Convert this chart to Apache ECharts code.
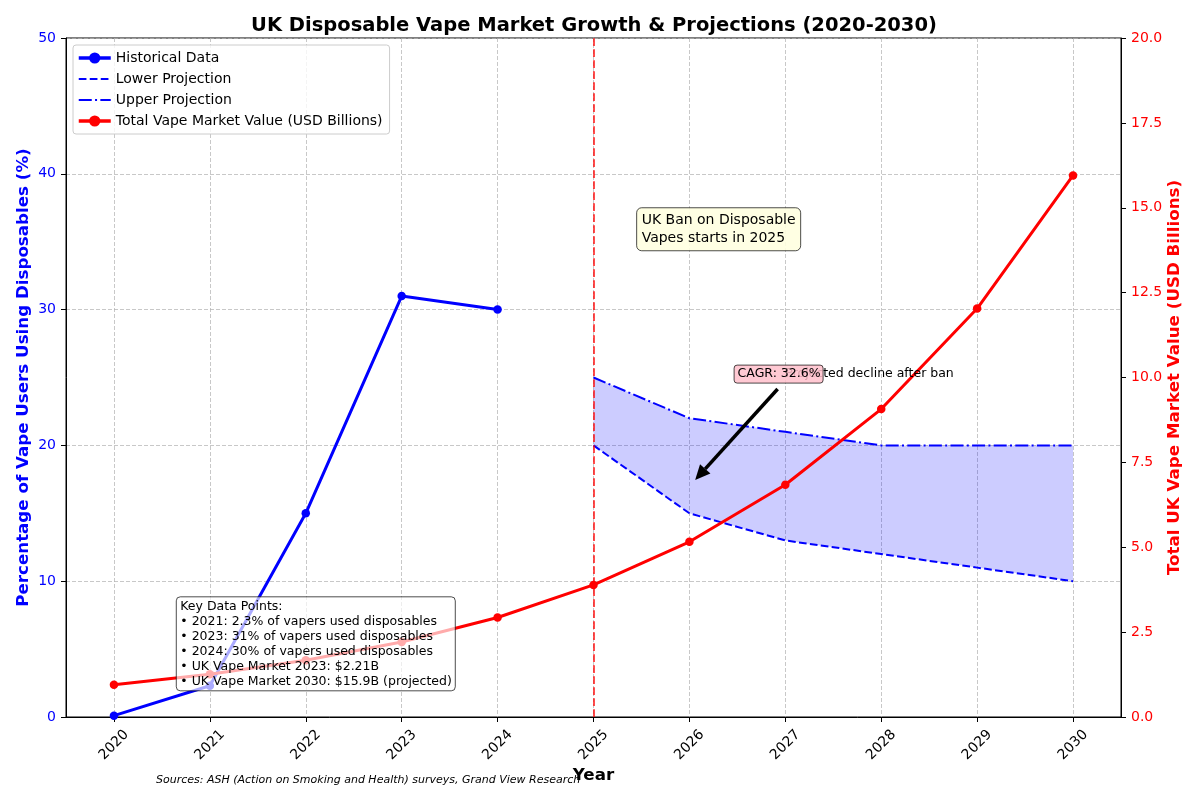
<!DOCTYPE html>
<html>
<head>
<meta charset="utf-8">
<script src="https://cdn.jsdelivr.net/npm/echarts@6/dist/echarts.min.js"></script>
<style>
  html, body { margin: 0; padding: 0; background: #fff; }
  #chart { width: 1200px; height: 800px; }
</style>
</head>
<body>
<div id="chart"></div>
<script>
// ---- data ----
var years = ['2020', '2021', '2022', '2023', '2024', '2025', '2026', '2027', '2028', '2029', '2030'];
var historicalPct = [0.1, 2.3, 15, 31, 30, null, null, null, null, null, null];
var lowerProjection = [null, null, null, null, null, 20, 15, 13, 12, 11, 10];
var upperProjection = [null, null, null, null, null, 25, 22, 21, 20, 20, 20];
var marketValue = [0.95, 1.26, 1.67, 2.21, 2.93, 3.89, 5.16, 6.84, 9.07, 12.03, 15.95];
var banYear = '2025';
var keyPoints = [
  'Key Data Points:',
  '\u2022 2021: 2.3% of vapers used disposables',
  '\u2022 2023: 31% of vapers used disposables',
  '\u2022 2024: 30% of vapers used disposables',
  '\u2022 UK Vape Market 2023: $2.21B',
  '\u2022 UK Vape Market 2030: $15.9B (projected)'
];

var FONT = 'DejaVu Sans';
var DASHED = [7.7, 3.3];
var DASHDOT = [13, 3.3, 2, 3.3];

// band between projections = base (lower) + gap (upper - lower)
var bandGap = upperProjection.map(function (u, i) {
  return u == null ? '-' : u - lowerProjection[i];
});
var bandBase = lowerProjection.map(function (v) { return v == null ? '-' : v; });
function dash(arr) { return arr.map(function (v) { return v == null ? '-' : v; }); }

var chart = echarts.init(document.getElementById('chart'));

var gridLine = { show: true, lineStyle: { color: '#b0b0b0', opacity: 0.7, width: 1, type: [4, 2] } };

var options = {
  animation: false,
  backgroundColor: '#fff',
  textStyle: { fontFamily: FONT },
  title: {
    text: 'UK Disposable Vape Market Growth & Projections (2020-2030)',
    left: 589, top: 11, textAlign: 'center',
    textStyle: { fontFamily: FONT, fontSize: 19.5, fontWeight: 'bold', color: '#000' }
  },
  legend: {
    orient: 'vertical', left: 73, top: 45,
    padding: [6, 7, 6, 4],
    itemGap: 7, itemWidth: 32, itemHeight: 14,
    backgroundColor: 'rgba(255,255,255,0.8)',
    borderColor: '#cccccc', borderWidth: 1, borderRadius: 3,
    textStyle: { fontFamily: FONT, fontSize: 14, color: '#000' },
    data: [
      { name: 'Historical Data', lineStyle: { width: 3.5 } },
      { name: 'Lower Projection', itemStyle: { opacity: 0 }, lineStyle: { width: 2, type: DASHED } },
      { name: 'Upper Projection', itemStyle: { opacity: 0 }, lineStyle: { width: 2, type: DASHDOT } },
      { name: 'Total Vape Market Value (USD Billions)', lineStyle: { width: 3.5 } }
    ]
  },
  grid: {
    left: 66, right: 79, top: 38, bottom: 83,
    show: true, borderColor: '#000', borderWidth: 1, backgroundColor: 'transparent'
  },
  xAxis: {
    type: 'category', data: years, boundaryGap: true,
    name: 'Year', nameLocation: 'middle', nameGap: 50, nameMoveOverlap: false,
    nameTextStyle: { fontFamily: FONT, fontSize: 16.7, fontWeight: 'bold', color: '#000' },
    axisLine: { show: true, lineStyle: { color: '#000', width: 1 } },
    axisTick: { show: true, alignWithLabel: true, length: 5, lineStyle: { color: '#000' } },
    axisLabel: {
      rotate: 45, color: '#000', fontSize: 14, fontFamily: FONT,
      margin: 28, align: 'center', verticalAlign: 'middle'
    },
    splitLine: { show: true, alignWithLabel: true, lineStyle: gridLine.lineStyle }
  },
  yAxis: [
    {
      type: 'value', min: 0, max: 50, interval: 10, position: 'left',
      name: 'Percentage of Vape Users Using Disposables (%)',
      nameLocation: 'middle', nameGap: 34, nameMoveOverlap: false,
      nameTextStyle: { fontFamily: FONT, fontSize: 16.7, fontWeight: 'bold', color: '#0000ff' },
      axisLine: { show: true, lineStyle: { color: '#000', width: 1 } },
      axisTick: { show: true, length: 5, lineStyle: { color: '#000' } },
      axisLabel: { color: '#0000ff', fontSize: 14, fontFamily: FONT, margin: 10 },
      splitLine: gridLine
    },
    {
      type: 'value', min: 0, max: 20, interval: 2.5, position: 'right',
      name: 'Total UK Vape Market Value (USD Billions)',
      nameLocation: 'middle', nameGap: 45, nameMoveOverlap: false,
      nameTextStyle: { fontFamily: FONT, fontSize: 16.7, fontWeight: 'bold', color: '#ff0000' },
      axisLine: { show: true, lineStyle: { color: '#000', width: 1 } },
      axisTick: { show: true, length: 5, lineStyle: { color: '#000' } },
      axisLabel: {
        color: '#ff0000', fontSize: 14, fontFamily: FONT, margin: 10,
        formatter: function (v) { return v.toFixed(1); }
      },
      splitLine: { show: false }
    }
  ],
  series: [
    {
      name: 'bandBase', type: 'line', stack: 'band', data: bandBase,
      symbol: 'none', lineStyle: { opacity: 0 }, silent: true
    },
    {
      name: 'bandGap', type: 'line', stack: 'band', data: bandGap,
      symbol: 'none', lineStyle: { opacity: 0 },
      areaStyle: { color: 'rgba(0,0,255,0.2)', opacity: 1 }, silent: true
    },
    {
      name: 'Lower Projection', type: 'line', data: dash(lowerProjection),
      symbol: 'none', color: '#0000ff',
      lineStyle: { color: '#0000ff', width: 2, type: DASHED }
    },
    {
      name: 'Upper Projection', type: 'line', data: dash(upperProjection),
      symbol: 'none', color: '#0000ff',
      lineStyle: { color: '#0000ff', width: 2, type: DASHDOT }
    },
    {
      name: 'Historical Data', type: 'line', data: dash(historicalPct),
      symbol: 'circle', symbolSize: 8.5, color: '#0000ff',
      lineStyle: { color: '#0000ff', width: 3 },
      itemStyle: { color: '#0000ff' },
      markLine: {
        silent: true, symbol: ['none', 'none'], label: { show: false },
        lineStyle: { color: 'rgba(255,0,0,0.7)', width: 2, type: DASHED },
        data: [{ xAxis: banYear }]
      }
    },
    {
      name: 'Total Vape Market Value (USD Billions)', type: 'line', yAxisIndex: 1,
      data: marketValue, symbol: 'circle', symbolSize: 8.5, color: '#ff0000',
      lineStyle: { color: '#ff0000', width: 3 },
      itemStyle: { color: '#ff0000' }
    }
  ]
};

chart.setOption(options);

// fractional year + value -> pixel, through the chart's own axes
function pt(year, val, yIdx) {
  var f = year - 2020;
  var i0 = Math.floor(f);
  var t = f - i0;
  var p0 = chart.convertToPixel({ xAxisIndex: 0, yAxisIndex: yIdx || 0 }, [i0, val]);
  var p1 = chart.convertToPixel({ xAxisIndex: 0, yAxisIndex: yIdx || 0 }, [i0 + 1, val]);
  return [p0[0] + t * (p1[0] - p0[0]), p0[1]];
}

var keyTL = pt(2020.65, 8.85);
var banTL = pt(2025.45, 37.5);
var projTxt = pt(2027, 25);
var cagrC = pt(2026.93, 25.25);
var arrTail = pt(2026.92, 24.15);
var arrHead = pt(2026.06, 17.45);

// arrow head geometry
var dx = arrHead[0] - arrTail[0], dy = arrHead[1] - arrTail[1];
var len = Math.sqrt(dx * dx + dy * dy);
var ux = dx / len, uy = dy / len;
var headLen = 15, headW = 7;
var baseX = arrHead[0] - ux * headLen, baseY = arrHead[1] - uy * headLen;

chart.setOption({
  graphic: [
    // ban note
    {
      type: 'rect', z: 100,
      shape: { x: banTL[0], y: banTL[1], width: 164, height: 43, r: 5 },
      style: { fill: 'rgba(255,255,224,0.9)', stroke: 'rgba(0,0,0,0.7)', lineWidth: 1 }
    },
    {
      type: 'text', z: 101, x: banTL[0] + 5, y: banTL[1] + 4,
      style: {
        text: 'UK Ban on Disposable\nVapes starts in 2025',
        font: '14px "DejaVu Sans"', fill: '#000', lineHeight: 17.5
      }
    },
    // projected decline text (baseline at the data point)
    {
      type: 'text', z: 100, x: projTxt[0], y: projTxt[1] - 4,
      style: {
        text: 'Projected decline after ban',
        font: '12.5px "DejaVu Sans"', fill: '#000', verticalAlign: 'middle'
      }
    },
    // CAGR box
    {
      type: 'rect', z: 102,
      shape: { x: cagrC[0] - 44.5, y: cagrC[1] - 9, width: 89, height: 18, r: 3 },
      style: { fill: 'rgba(255,192,203,0.85)', stroke: 'rgba(0,0,0,0.7)', lineWidth: 1 }
    },
    {
      type: 'text', z: 103, x: cagrC[0] - 41, y: cagrC[1],
      style: {
        text: 'CAGR: 32.6%', font: '12.5px "DejaVu Sans"', fill: '#000', verticalAlign: 'middle'
      }
    },
    // arrow
    {
      type: 'line', z: 104,
      shape: { x1: arrTail[0], y1: arrTail[1], x2: baseX, y2: baseY },
      style: { stroke: '#000', lineWidth: 3.5 }
    },
    {
      type: 'polygon', z: 104,
      shape: {
        points: [
          [arrHead[0], arrHead[1]],
          [baseX - uy * headW, baseY + ux * headW],
          [baseX + uy * headW, baseY - ux * headW]
        ]
      },
      style: { fill: '#000' }
    },
    // key data box
    {
      type: 'rect', z: 100,
      shape: { x: keyTL[0], y: keyTL[1], width: 279, height: 94, r: 4 },
      style: { fill: 'rgba(255,255,255,0.67)', stroke: 'rgba(0,0,0,0.7)', lineWidth: 1 }
    },
    {
      type: 'text', z: 101, x: keyTL[0] + 4, y: keyTL[1] + 2,
      style: {
        text: keyPoints.join('\n'), font: '12.5px "DejaVu Sans"', fill: '#000', lineHeight: 15
      }
    },
    // sources
    {
      type: 'text', z: 100, x: 156, y: 780,
      style: {
        text: 'Sources: ASH (Action on Smoking and Health) surveys, Grand View Research',
        font: 'italic 11px "DejaVu Sans"', fill: '#000', verticalAlign: 'middle'
      }
    }
  ]
});
</script>
</body>
</html>
